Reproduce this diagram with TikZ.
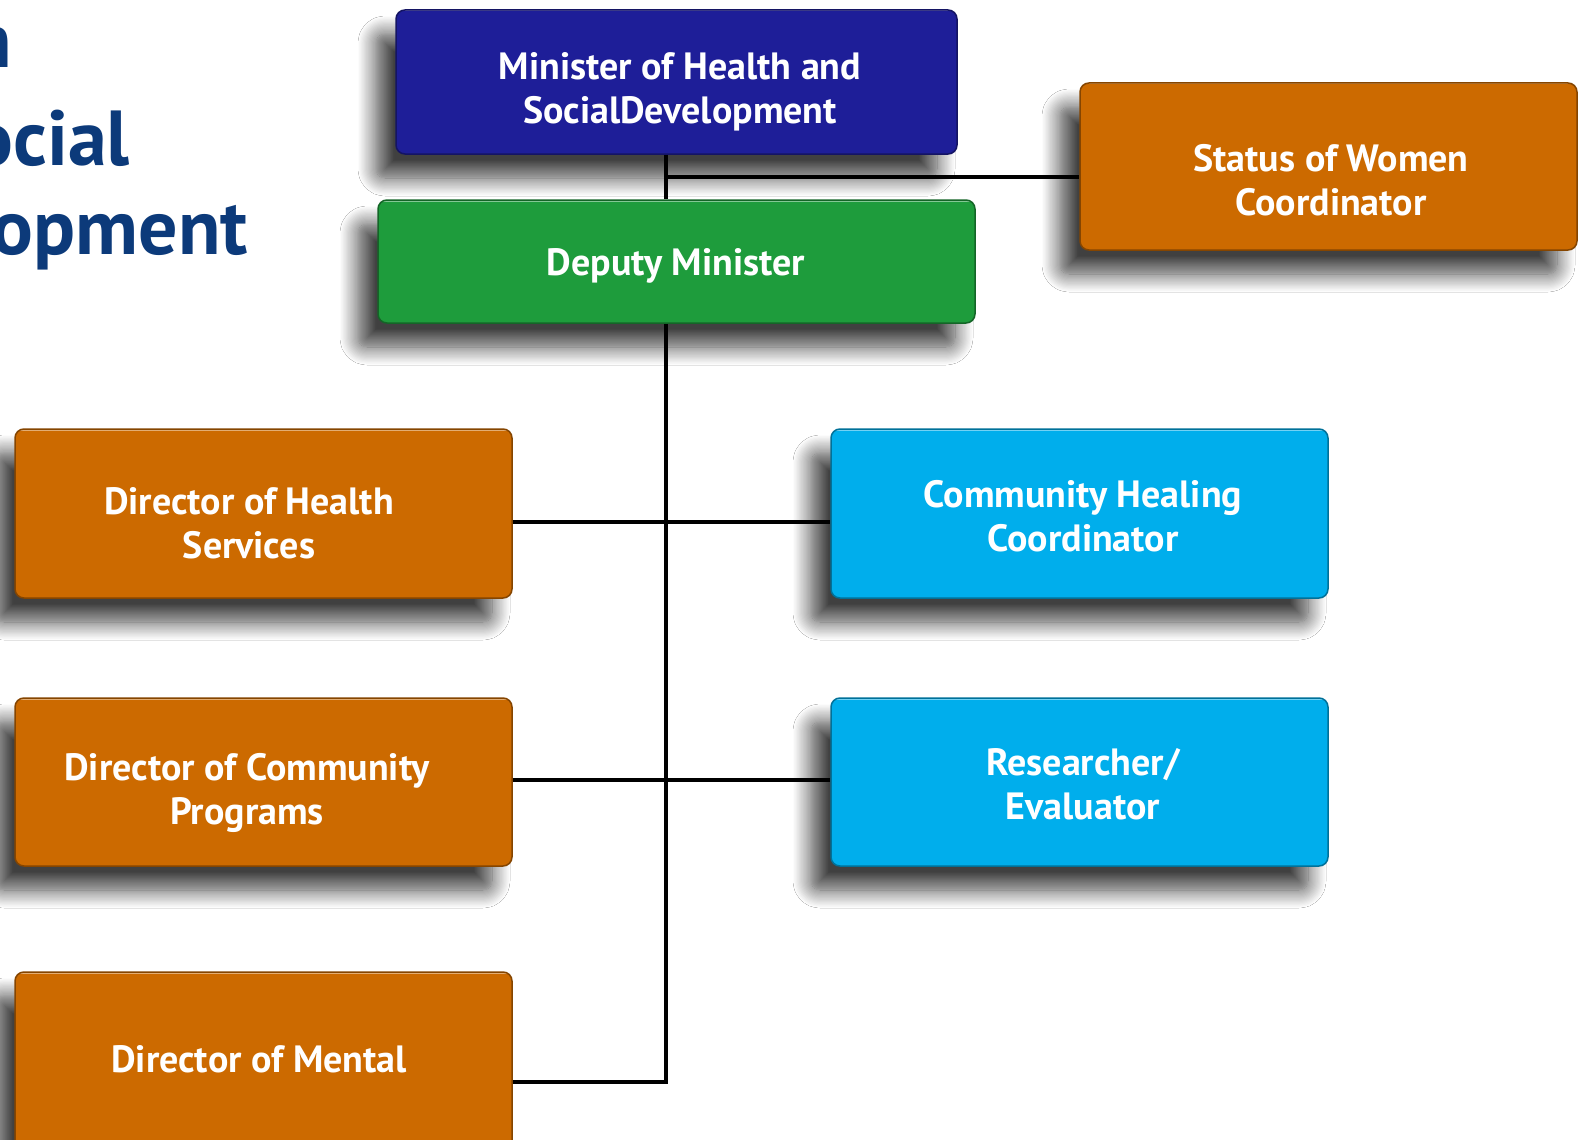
\documentclass[tikz,border=0pt]{standalone}
\usepackage{fontspec}
\setmainfont{PT Sans}
\usetikzlibrary{shadows.blur}
\pgfdeclarelayer{background}
\pgfsetlayers{background,main}
\definecolor{minblue}{RGB}{30,30,152}
\definecolor{depgreen}{RGB}{30,156,60}
\definecolor{orng}{RGB}{204,106,0}
\definecolor{cyn}{RGB}{0,174,236}
\definecolor{navy}{RGB}{12,58,122}
\begin{document}
\begin{tikzpicture}[x=1pt,y=-1pt,
  box/.style={rounded corners=9pt, draw=#1!65!black, line width=1.5pt, fill=#1,
    minimum width=497pt, minimum height=168pt, inner sep=0pt,
    path picture={\draw[#1!55!white, line width=3pt]
      (path picture bounding box.north west) -- (path picture bounding box.north east);},
    blur shadow={shadow xshift=-20pt, shadow yshift=-24pt, shadow blur radius=18pt,
      shadow blur steps=16, shadow opacity=75}},
  lbl/.style={text=white, font=\fontsize{38}{44}\selectfont\bfseries, align=center, inner sep=0pt},
  ttl/.style={text=navy, font=\fontsize{78}{90}\selectfont\bfseries, anchor=base east, inner sep=0pt},
  conn/.style={line width=4pt, black},
  connsh/.style={line width=#1, black, opacity=0.14, transform canvas={xshift=-6pt, yshift=-6pt}},
]
\useasboundingbox[fill=white] (0,0) rectangle (1583,1140);

% title fragment
\node[ttl] (t1) at (12,68) {n};
\node[ttl] (t2) at (130,165) {ocial};
\node[ttl] (t3) at (248,254) {opment};

% boxes
\node[box=minblue, minimum width=561pt, minimum height=144pt] (min) at (676.5,82) {};
\node[box=orng, minimum height=167pt] (sow) at (1328.5,166.5) {};
\node[box=depgreen, minimum width=597pt, minimum height=123pt] (dep) at (676.5,261.5) {};
\node[box=orng, minimum height=169pt] (dhs) at (263.5,513.5) {};
\node[box=cyn, minimum height=169pt] (chc) at (1079.5,513.5) {};
\node[box=orng] (dcp) at (263.5,782) {};
\node[box=cyn] (res) at (1079.5,782) {};
\node[box=orng, minimum height=190pt] (dmh) at (263.5,1067) {};

% labels
\node[lbl] (lmin) at (680,92) {Minister of Health and\\SocialDevelopment};
\node[lbl] (lsow) at (1331,180) {Status of Women\\Coordinator};
\node[lbl] (ldep) at (676,266) {Deputy Minister};
\node[lbl] (ldhs) at (249,523) {Director of Health\\Services};
\node[lbl] (lchc) at (1083,516) {Community Healing\\Coordinator};
\node[lbl] (ldcp) at (247,792.5) {Director of Community\\Programs};
\node[lbl] (lres) at (1083,784.5) {Researcher/\\Evaluator};
\node[lbl] (ldmh) at (259,1059) {Director of Mental};

% junction coordinates
\coordinate (js) at (666,177);
\coordinate (jh) at (666,522);
\coordinate (jc) at (666,780);
\coordinate (jm) at (666,1082);

% connector shadows
\begin{pgfonlayer}{background}
\foreach \w in {18pt,12pt,7pt}{
  \draw[connsh=\w] (min.south -| js) -- (dep.north -| js);
  \draw[connsh=\w] (js) -- (sow.west |- js);
  \draw[connsh=\w] (dep.south -| jm) -- (jm) -- (dmh.east |- jm);
  \draw[connsh=\w] (dhs.east |- jh) -- (chc.west |- jh);
  \draw[connsh=\w] (dcp.east |- jc) -- (res.west |- jc);
}
\end{pgfonlayer}

% connectors
\draw[conn] (min.south -| js) -- (dep.north -| js);
\draw[conn] (js) -- (sow.west |- js);
\draw[conn] (dep.south -| jm) -- (jm) -- (dmh.east |- jm);
\draw[conn] (dhs.east |- jh) -- (chc.west |- jh);
\draw[conn] (dcp.east |- jc) -- (res.west |- jc);
\end{tikzpicture}
\end{document}
